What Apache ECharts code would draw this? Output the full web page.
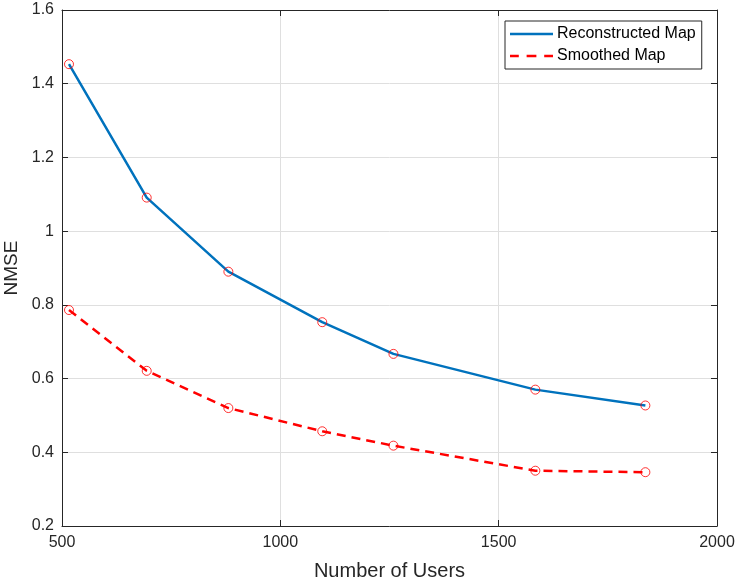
<!DOCTYPE html>
<html>
<head>
<meta charset="utf-8">
<script src="https://cdn.jsdelivr.net/npm/echarts@6/dist/echarts.min.js"></script>
<style>html,body{margin:0;padding:0;background:#fff}#c{width:738px;height:580px}</style>
</head>
<body>
<div id="c"></div>
<script>
const users = [516, 694, 881, 1096, 1259, 1584, 1836];
const reconstructed = [1.453, 1.091, 0.890, 0.753, 0.667, 0.570, 0.527];
const smoothed = [0.786, 0.621, 0.520, 0.457, 0.418, 0.350, 0.346];
const seriesNames = ['Reconstructed Map', 'Smoothed Map'];
const xTicks = [500, 1000, 1500, 2000];
const yTicks = [0.2, 0.4, 0.6, 0.8, 1, 1.2, 1.4, 1.6];

const pairs = (xs, ys) => xs.map((x, i) => [x, ys[i]]);
const axisColor = '#262626';
const font = 'Liberation Sans, Arial, Helvetica, sans-serif';

const chart = echarts.init(document.getElementById('c'), null, {renderer: 'canvas'});
const baseX = {
  type: 'value', min: 500, max: 2000, interval: 500,
  axisLine: {show: true, lineStyle: {color: axisColor, width: 1}},
  axisTick: {show: true, inside: true, length: 6, lineStyle: {color: axisColor}},
  splitLine: {show: false}
};
const baseY = {
  type: 'value', min: 0.2, max: 1.6, interval: 0.2,
  axisLine: {show: true, lineStyle: {color: axisColor, width: 1}},
  axisTick: {show: true, inside: true, length: 6, lineStyle: {color: axisColor}},
  splitLine: {show: false}
};
chart.setOption({
  animation: false,
  backgroundColor: '#ffffff',
  textStyle: {fontFamily: font},
  grid: {left: 62, top: 10, right: 21, bottom: 54, outerBoundsMode: 'none'},
  legend: {
    data: [
      {name: seriesNames[0], icon: 'path://M0,0 L44,0 L44,2.5 L0,2.5 Z'},
      {name: seriesNames[1], icon: 'path://M0,0 L9,0 L9,2.5 L0,2.5 Z M17,0 L27,0 L27,2.5 L17,2.5 Z M35,0 L44,0 L44,2.5 L35,2.5 Z'}
    ],
    orient: 'vertical',
    left: 505, top: 21,
    padding: [5, 6, 5, 5],
    itemGap: 6,
    itemWidth: 43, itemHeight: 16,
    borderColor: axisColor, borderWidth: 1,
    backgroundColor: '#ffffff',
    textStyle: {fontSize: 16, lineHeight: 16, color: '#000', fontFamily: font, padding: [0, 0, 0, -1]}
  },
  xAxis: [
    Object.assign({}, baseX, {
      position: 'bottom',
      name: 'Number of Users', nameLocation: 'middle', nameGap: 35,
      nameTextStyle: {fontSize: 20, color: axisColor, fontFamily: font},
      axisLabel: {show: true, color: axisColor, fontSize: 16, margin: 9, fontFamily: font,
        formatter: v => xTicks.includes(v) ? String(v) : ''},
      splitLine: {show: true, lineStyle: {color: '#dfdfdf', width: 1}}
    }),
    Object.assign({}, baseX, {position: 'top', axisLabel: {show: false}})
  ],
  yAxis: [
    Object.assign({}, baseY, {
      position: 'left',
      name: 'NMSE', nameLocation: 'middle', nameGap: 37,
      nameTextStyle: {fontSize: 19, color: axisColor, fontFamily: font},
      axisLabel: {show: true, color: axisColor, fontSize: 16, margin: 8, fontFamily: font,
        formatter: v => { const t = yTicks.find(k => Math.abs(k - v) < 1e-9); return t === undefined ? '' : String(t); }},
      splitLine: {show: true, lineStyle: {color: '#dfdfdf', width: 1}}
    }),
    Object.assign({}, baseY, {position: 'right', axisLabel: {show: false}})
  ],
  series: [
    {
      name: seriesNames[0], type: 'line', xAxisIndex: 0, yAxisIndex: 0,
      data: pairs(users, reconstructed), symbol: 'none',
      lineStyle: {color: '#0072BD', width: 2.5}, itemStyle: {color: '#0072BD'}, z: 3
    },
    {
      name: seriesNames[1], type: 'line', xAxisIndex: 0, yAxisIndex: 0,
      data: pairs(users, smoothed), symbol: 'none',
      lineStyle: {color: '#FF0000', width: 2.5, type: [9, 6]}, itemStyle: {color: '#FF0000'}, z: 3
    },
    {
      type: 'scatter', xAxisIndex: 0, yAxisIndex: 0, data: pairs(users, reconstructed),
      symbol: 'circle', symbolSize: 9,
      itemStyle: {color: 'rgba(0,0,0,0)', borderColor: '#FF0000', borderWidth: 1}, z: 4
    },
    {
      type: 'scatter', xAxisIndex: 0, yAxisIndex: 0, data: pairs(users, smoothed),
      symbol: 'circle', symbolSize: 9,
      itemStyle: {color: 'rgba(0,0,0,0)', borderColor: '#FF0000', borderWidth: 1}, z: 4
    }
  ]
});
</script>
</body>
</html>
